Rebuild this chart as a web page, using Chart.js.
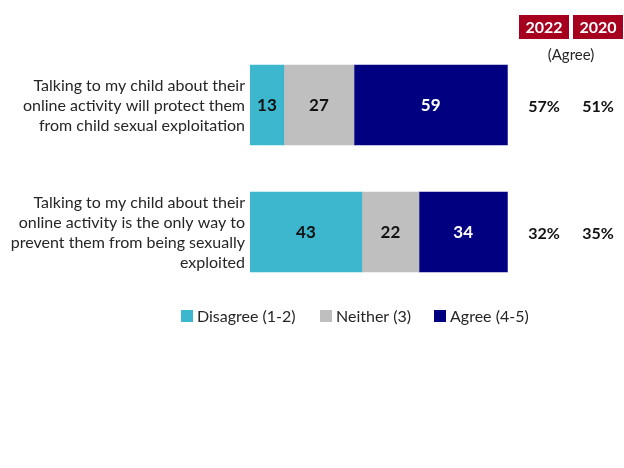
<!DOCTYPE html>
<html>
<head>
<meta charset="utf-8">
<script src="https://cdn.jsdelivr.net/npm/chart.js@4.4.1/dist/chart.umd.min.js"></script>
<style>
  html, body { margin: 0; padding: 0; background: #fff; }
  #wrap { width: 624px; height: 468px; position: relative; }
</style>
</head>
<body>
<div id="wrap"><canvas id="chart" width="624" height="468"></canvas></div>
<script>
const categories = [
    ['Talking to my child about their', 'online activity will protect them', 'from child sexual exploitation'],
    ['Talking to my child about their', 'online activity is the only way to', 'prevent them from being sexually', 'exploited']
];
const disagree = [13, 43];
const neither = [27, 22];
const agree = [59, 34];
const years = ['2022', '2020'];
const agree2022 = ['57%', '32%'];
const agree2020 = ['51%', '35%'];

const FONT = 'Lato, "Open Sans", sans-serif';

// labels inside segments, category text, legend and the agree table
const extras = {
    id: 'extras',
    afterDatasetsDraw(chart) {
        const ctx = chart.ctx;
        const yScale = chart.scales.y;
        ctx.save();

        // values inside bars
        chart.data.datasets.forEach((ds, di) => {
            chart.getDatasetMeta(di).data.forEach((bar, i) => {
                ctx.font = 'bold 17px ' + FONT;
                ctx.fillStyle = di === 2 ? '#ffffff' : '#111111';
                ctx.textAlign = 'center';
                ctx.textBaseline = 'middle';
                ctx.fillText(ds.data[i], (bar.x + bar.base) / 2, bar.y + 1);
            });
        });

        // category labels
        ctx.font = '16px ' + FONT;
        ctx.fillStyle = '#262626';
        ctx.textAlign = 'right';
        categories.forEach((lines, i) => {
            const cy = yScale.getPixelForValue(i);
            const lh = 20;
            const y0 = cy - (lines.length - 1) * lh / 2 + 1;
            lines.forEach((t, k) => ctx.fillText(t, 245, y0 + k * lh));
        });

        // year header boxes
        const colX = [544, 598];
        years.forEach((y, k) => {
            ctx.fillStyle = '#A6001E';
            ctx.fillRect(colX[k] - 25, 15, 50, 24);
            ctx.fillStyle = '#ffffff';
            ctx.font = 'bold 16px ' + FONT;
            ctx.textAlign = 'center';
            ctx.fillText(y, colX[k], 28);
        });
        ctx.fillStyle = '#262626';
        ctx.font = '15px ' + FONT;
        ctx.fillText('(Agree)', 571, 55);

        ctx.font = 'bold 16px ' + FONT;
        ctx.fillStyle = '#111111';
        categories.forEach((c, i) => {
            const cy = yScale.getPixelForValue(i) + 2;
            ctx.fillText(agree2022[i], colX[0], cy);
            ctx.fillText(agree2020[i], colX[1], cy);
        });

        // legend
        const legX = [181, 320, 434];
        ctx.font = '16px ' + FONT;
        ctx.textAlign = 'left';
        chart.data.datasets.forEach((ds, di) => {
            ctx.fillStyle = ds.backgroundColor;
            ctx.fillRect(legX[di], 310, 12, 12);
            ctx.fillStyle = '#262626';
            ctx.fillText(ds.label, legX[di] + 16, 317);
        });
        ctx.restore();
    }
};

new Chart(document.getElementById('chart'), {
    type: 'bar',
    data: {
        labels: categories,
        datasets: [
            { label: 'Disagree (1-2)', data: disagree, backgroundColor: '#3DB7CD' },
            { label: 'Neither (3)', data: neither, backgroundColor: '#BFBFBF' },
            { label: 'Agree (4-5)', data: agree, backgroundColor: '#000080' }
        ]
    },
    options: {
        indexAxis: 'y',
        responsive: false,
        animation: false,
        layout: { padding: { left: 250, right: 114, top: 41.5, bottom: 172.5 } },
        datasets: { bar: { barThickness: 80 } },
        scales: {
            x: { stacked: true, min: 0, max: 100, display: false },
            y: { stacked: true, display: false }
        },
        plugins: {
            legend: { display: false },
            tooltip: { enabled: false }
        }
    },
    plugins: [extras]
});
</script>
</body>
</html>
